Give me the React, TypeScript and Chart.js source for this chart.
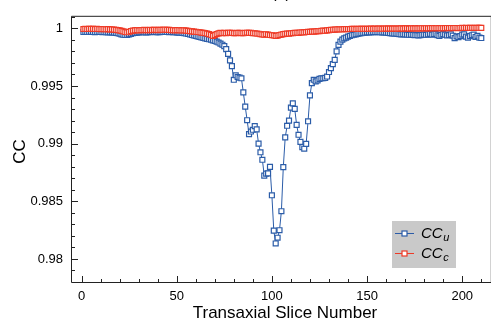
import { useEffect, useRef } from "react";
import { Chart, registerables } from "chart.js";

Chart.register(...registerables);

const sliceStart = 1;

const ccU = [
  0.99968, 0.99969, 0.99968, 0.9997, 0.99969, 0.99968, 0.99967, 0.99968, 0.99969, 0.99968,
  0.99967, 0.99968, 0.99966, 0.99965, 0.99966, 0.99964, 0.99962, 0.9996, 0.99957, 0.99953,
  0.99948, 0.99944, 0.99942, 0.99943, 0.99947, 0.99952, 0.99957, 0.99961, 0.99963, 0.99965,
  0.99966, 0.99967, 0.99966, 0.99965, 0.99966, 0.99967, 0.99968, 0.99968, 0.99967, 0.99966,
  0.99967, 0.99968, 0.99968, 0.99969, 0.99968, 0.99967, 0.99968, 0.99967, 0.99966, 0.99965,
  0.99963, 0.99962, 0.9996, 0.99958, 0.99955, 0.99951, 0.99947, 0.99942, 0.99938, 0.99934,
  0.9993, 0.99926, 0.99921, 0.99917, 0.99913, 0.99909, 0.99905, 0.99901, 0.99896, 0.99891,
  0.99885, 0.99877, 0.99867, 0.99858, 0.99846, 0.9982, 0.99778, 0.99722, 0.99672, 0.99554,
  0.99593, 0.99578, 0.99572, 0.99567, 0.99444, 0.99321, 0.99203, 0.99082, 0.99105, 0.9912,
  0.99152, 0.99124, 0.99, 0.98925, 0.9886, 0.98723, 0.9874, 0.98742, 0.98799, 0.98552,
  0.98246, 0.98134, 0.98184, 0.98249, 0.98414, 0.98796, 0.99054, 0.99155, 0.992, 0.99312,
  0.99349, 0.99301, 0.99163, 0.99077, 0.99015, 0.9897, 0.98956, 0.98998, 0.99194, 0.99419,
  0.99525, 0.99554, 0.9954, 0.99548, 0.99562, 0.99567, 0.99567, 0.9957, 0.99582, 0.99621,
  0.99655, 0.99689, 0.99727, 0.998, 0.99857, 0.99885, 0.99902, 0.99913, 0.9992, 0.99928,
  0.99934, 0.9994, 0.99944, 0.99948, 0.99952, 0.99955, 0.99958, 0.9996, 0.99962, 0.99964,
  0.99965, 0.99966, 0.99967, 0.99967, 0.99968, 0.99967, 0.99966, 0.99965, 0.99964, 0.99962,
  0.9996, 0.99958, 0.99956, 0.99955, 0.99953, 0.99952, 0.9995, 0.99948, 0.99949, 0.99947,
  0.99945, 0.99944, 0.99946, 0.99943, 0.9994, 0.99942, 0.99938, 0.99941, 0.99944, 0.99946,
  0.99944, 0.99948, 0.99952, 0.99946, 0.9995, 0.99952, 0.9994, 0.99935, 0.99944, 0.9995,
  0.99945, 0.99938, 0.99942, 0.99948, 0.99936, 0.99915, 0.9993, 0.99924, 0.99933, 0.99945,
  0.99948, 0.99928, 0.9992, 0.99932, 0.9994, 0.99946, 0.99925, 0.99935, 0.9992, 0.99916,
];

const ccC = [
  0.99994, 0.99995, 0.99994, 0.99995, 0.99996, 0.99995, 0.99994, 0.99995, 0.99994, 0.99993,
  0.99994, 0.99993, 0.99992, 0.99993, 0.99991, 0.9999, 0.99989, 0.99987, 0.99985, 0.99982,
  0.99978, 0.99973, 0.99968, 0.99966, 0.9997, 0.99976, 0.9998, 0.99982, 0.99984, 0.99983,
  0.99985, 0.99984, 0.99986, 0.99985, 0.99984, 0.99986, 0.99985, 0.99987, 0.99986, 0.99985,
  0.99986, 0.99987, 0.99986, 0.99988, 0.99987, 0.99986, 0.99984, 0.99985, 0.99983, 0.99984,
  0.99985, 0.99983, 0.99982, 0.99983, 0.9998, 0.99978, 0.99976, 0.99974, 0.99972, 0.9997,
  0.99968, 0.99966, 0.99963, 0.99961, 0.99958, 0.99955, 0.9995, 0.99944, 0.99935, 0.99941,
  0.9995, 0.99956, 0.9996, 0.99958, 0.99961, 0.99959, 0.9996, 0.99962, 0.9996, 0.99958,
  0.99959, 0.99961, 0.9996, 0.99958, 0.99959, 0.99961, 0.99962, 0.9996, 0.99961, 0.99959,
  0.99957, 0.99955, 0.99953, 0.9995, 0.99948, 0.99946, 0.99949, 0.99945, 0.99942, 0.9994,
  0.99938, 0.99935, 0.99937, 0.99942, 0.99946, 0.9995, 0.99952, 0.99955, 0.99954, 0.99957,
  0.99958, 0.9996, 0.99962, 0.99961, 0.99964, 0.99966, 0.99965, 0.99968, 0.9997, 0.99969,
  0.99972, 0.99971, 0.99974, 0.99976, 0.99975, 0.99978, 0.9998, 0.99979, 0.99982, 0.99984,
  0.99986, 0.99988, 0.99989, 0.9999, 0.99991, 0.99992, 0.99992, 0.99993, 0.99993, 0.99994,
  0.99994, 0.99995, 0.99995, 0.99994, 0.99995, 0.99996, 0.99995, 0.99996, 0.99996, 0.99995,
  0.99996, 0.99997, 0.99996, 0.99997, 0.99996, 0.99997, 0.99997, 0.99996, 0.99997, 0.99998,
  0.99997, 0.99998, 0.99997, 0.99998, 0.99998, 0.99997, 0.99998, 0.99999, 0.99998, 0.99999,
  0.99999, 0.99998, 0.99999, 1.0, 0.99999, 1.0, 0.99999, 1.0, 1.00001, 1.0,
  1.00001, 1.0, 1.00001, 1.00002, 1.00001, 1.00002, 1.00001, 1.00002, 1.00002, 1.00001,
  1.00002, 1.00003, 1.00002, 1.00003, 1.00002, 1.00003, 1.00003, 1.00002, 1.00003, 1.00004,
  1.00003, 1.00004, 1.00003, 1.00004, 1.00004, 1.00003, 1.00004, 1.00004, 1.00005, 1.00004,
];

const xTickValues = [0, 50, 100, 150, 200];
const yTickValues = [0.98, 0.985, 0.99, 0.995, 1];
const xRange = [-5, 215];
const yRange = [0.978, 1.001];
const xMinorStep = 10;
const yMinorStep = 0.001;

const xTitle = "Transaxial Slice Number";
const yTitle = "CC";
const panelTitle = "(a)";
const legendEntries = [
  { base: "CC", sub: "u", color: "#2b5ca8" },
  { base: "CC", sub: "c", color: "#ee3a26" },
];

const FONT = '"Liberation Sans", Arial, Helvetica, sans-serif';

export default function App() {
  const ref = useRef<HTMLCanvasElement | null>(null);

  useEffect(() => {
    const canvas = ref.current;
    if (!canvas) return;
    const slices = ccU.map((_, i) => sliceStart + i);

    const decor = {
      id: "decor",
      afterDraw(chart: any) {
        const ctx = chart.ctx as CanvasRenderingContext2D;
        const { left, right, top, bottom } = chart.chartArea;
        const xs = chart.scales.x;
        const ys = chart.scales.y;
        ctx.save();
        ctx.strokeStyle = "#222";
        ctx.lineWidth = 1;
        ctx.beginPath();
        ctx.rect(left - 0.5, top - 0.5, right - left + 1, bottom - top + 1);
        ctx.stroke();

        ctx.beginPath();
        for (let k = Math.ceil(xRange[0] / xMinorStep); k * xMinorStep <= xRange[1]; k++) {
          const v = k * xMinorStep;
          const px = Math.round(xs.getPixelForValue(v)) + 0.5;
          const major = v % 50 === 0;
          const len = major ? 6 : 3;
          ctx.moveTo(px, bottom);
          ctx.lineTo(px, bottom - len);
        }
        const n0 = Math.ceil(yRange[0] / yMinorStep - 1e-6);
        const n1 = Math.floor(yRange[1] / yMinorStep + 1e-6);
        for (let k = n0; k <= n1; k++) {
          const v = k * yMinorStep;
          const py = Math.round(ys.getPixelForValue(v)) + 0.5;
          const major = k % 5 === 0;
          const len = major ? 6 : 3;
          ctx.moveTo(left, py);
          ctx.lineTo(left + len, py);
        }
        ctx.stroke();

        ctx.fillStyle = "#000";
        ctx.font = `17px ${FONT}`;
        ctx.textAlign = "center";
        ctx.textBaseline = "middle";
        ctx.fillText(xTitle, 285, 313);
        ctx.save();
        ctx.translate(20, (top + bottom) / 2 + 2);
        ctx.rotate(-Math.PI / 2);
        ctx.fillText(yTitle, 0, 0);
        ctx.restore();

        ctx.font = `16px ${FONT}`;
        ctx.textBaseline = "alphabetic";
        ctx.fillText(panelTitle, 281, -2);

        const bx = 392, by = 221, bw = 64, bh = 47;
        ctx.fillStyle = "#c9c9c9";
        ctx.fillRect(bx, by, bw, bh);
        legendEntries.forEach((e, i) => {
          const cy = 233.5 + i * 20;
          ctx.strokeStyle = e.color;
          ctx.lineWidth = 1;
          ctx.beginPath();
          ctx.moveTo(395, cy);
          ctx.lineTo(414, cy);
          ctx.stroke();
          ctx.fillStyle = "#fff";
          ctx.fillRect(402, cy - 2.5, 5, 5);
          ctx.lineWidth = 1.2;
          ctx.strokeRect(402, cy - 2.5, 5, 5);
          ctx.fillStyle = "#000";
          ctx.textAlign = "left";
          ctx.textBaseline = "middle";
          ctx.font = `italic 15px ${FONT}`;
          ctx.fillText(e.base, 421, cy);
          const w = ctx.measureText(e.base).width;
          ctx.font = `italic 11px ${FONT}`;
          ctx.fillText(e.sub, 421 + w + 0.5, cy + 4);
        });
        ctx.restore();
      },
    };

    const chart = new Chart(canvas, {
      type: "line",
      data: {
        datasets: [
          {
            label: "CCu",
            data: slices.map((x, i) => ({ x, y: ccU[i] })),
            borderColor: "#2b5ca8",
            borderWidth: 1,
            pointStyle: "rect",
            pointRadius: 3.5,
            pointBorderWidth: 1.2,
            pointBackgroundColor: "#ffffff",
            pointBorderColor: "#2b5ca8",
            order: 2,
          },
          {
            label: "CCc",
            data: slices.map((x, i) => ({ x, y: ccC[i] })),
            borderColor: "#ee3a26",
            borderWidth: 1,
            pointStyle: "rect",
            pointRadius: 3.5,
            pointBorderWidth: 1.2,
            pointBackgroundColor: "#ffffff",
            pointBorderColor: "#ee3a26",
            order: 1,
          },
        ],
      },
      options: {
        responsive: false,
        animation: false,
        devicePixelRatio: 1,
        layout: { padding: { top: 8, right: 1, left: 0, bottom: 0 } },
        plugins: { legend: { display: false }, tooltip: { enabled: false } },
        scales: {
          x: {
            type: "linear",
            min: xRange[0],
            max: xRange[1],
            grid: { display: false, drawTicks: false },
            border: { display: false },
            afterBuildTicks: (s: any) => {
              s.ticks = xTickValues.map((value) => ({ value }));
            },
            afterFit: (s: any) => {
              s.height = 41;
            },
            ticks: {
              autoSkip: false,
              maxRotation: 0,
              padding: 7,
              color: "#000",
              font: { family: FONT, size: 13 },
              callback: (v: any) => String(v),
            },
          },
          y: {
            type: "linear",
            min: yRange[0],
            max: yRange[1],
            grid: { display: false, drawTicks: false },
            border: { display: false },
            afterBuildTicks: (s: any) => {
              s.ticks = yTickValues.map((value) => ({ value }));
            },
            afterFit: (s: any) => {
              s.width = 72;
            },
            ticks: {
              autoSkip: false,
              padding: 9,
              color: "#000",
              font: { family: FONT, size: 13 },
              callback: (v: any) => String(v),
            },
          },
        },
      },
      plugins: [decor],
    });
    return () => chart.destroy();
  }, []);

  return (
    <div
      style={{
        position: "fixed",
        left: 0,
        top: 0,
        width: 491,
        height: 323,
        overflow: "hidden",
        background: "#fff",
      }}
    >
      <canvas ref={ref} width={496} height={323} style={{ display: "block" }} />
    </div>
  );
}
